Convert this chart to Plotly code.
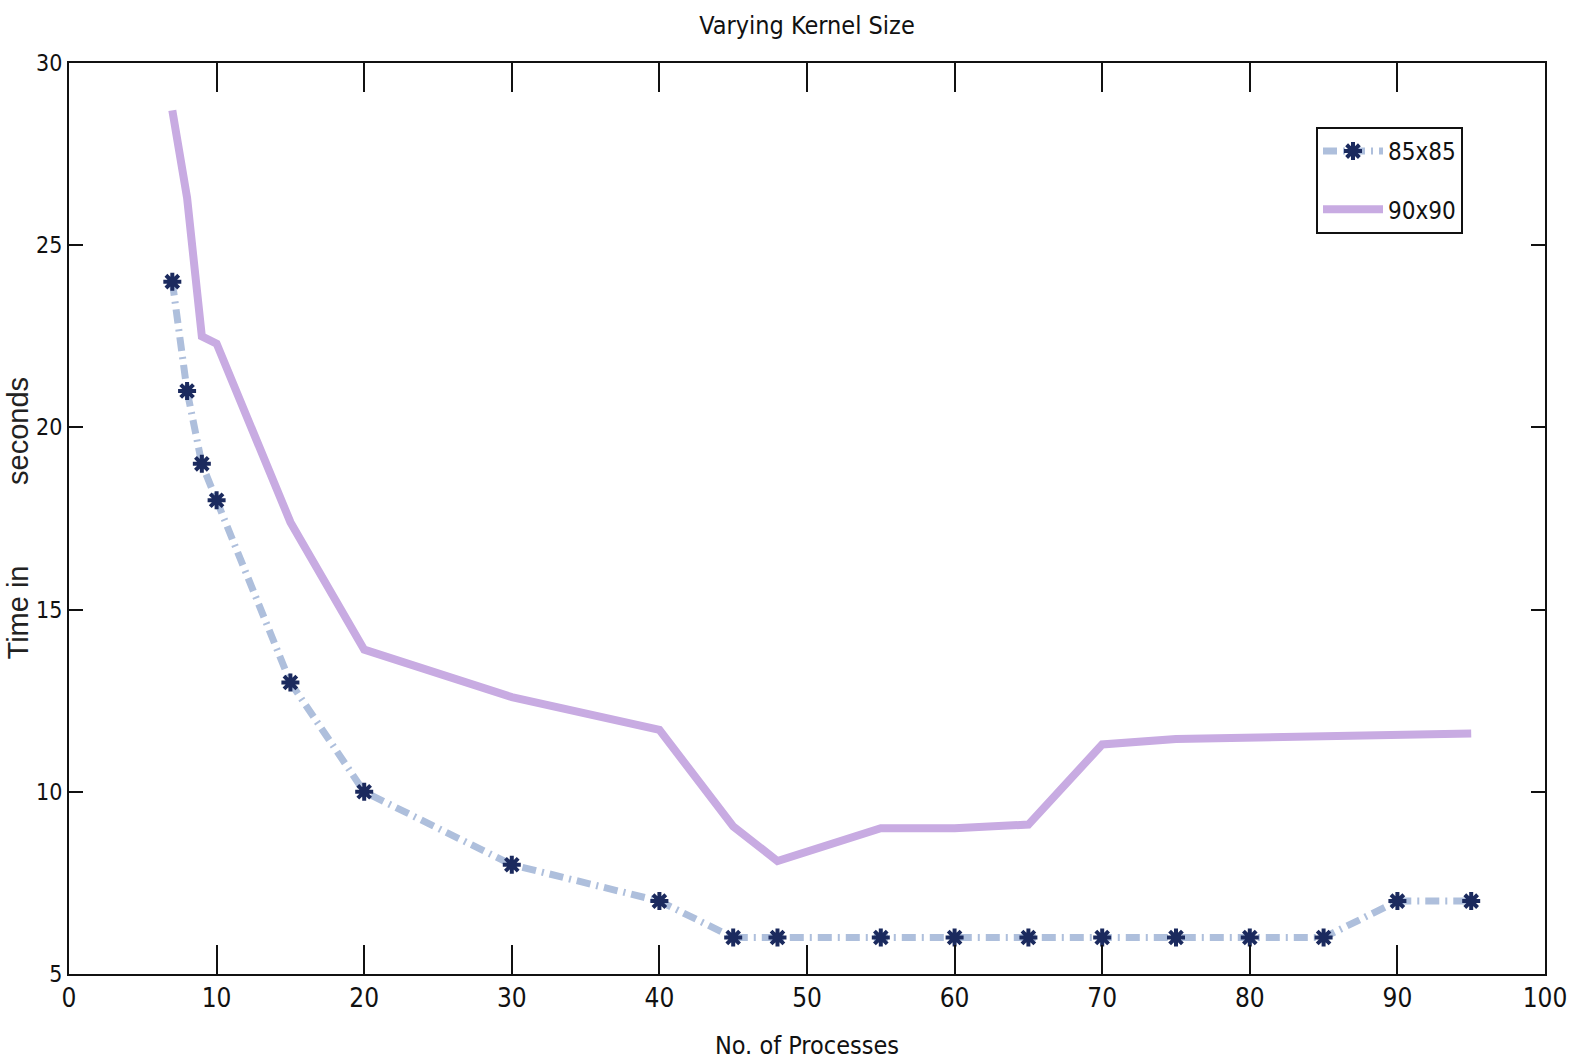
import plotly.graph_objects as go

processes = [7, 8, 9, 10, 15, 20, 30, 40, 45, 48, 55, 60, 65, 70, 75, 80, 85, 90, 95]
time_85 = [24, 21, 19, 18, 13, 10, 8, 7, 6, 6, 6, 6, 6, 6, 6, 6, 6, 7, 7]
time_90 = [28.7, 26.3, 22.5, 22.3, 17.4, 13.9, 12.6, 11.7, 9.05, 8.1, 9.0, 9.0, 9.1,
           11.3, 11.45, 11.5, 11.5, 11.6, 11.6]
x_ticks = [0, 10, 20, 30, 40, 50, 60, 70, 80, 90, 100]
y_ticks = [5, 10, 15, 20, 25, 30]

NARROW = "Liberation Sans Narrow, Arial Narrow, DejaVu Sans Condensed, sans-serif"

fig = go.Figure()
fig.add_trace(go.Scatter(
    x=processes, y=time_85, name="85x85", mode="lines+markers", legendgroup="a",
    line=dict(color="#aebfdc", width=7, dash="14px,6px,2px,6px"),
    marker=dict(symbol="asterisk-open", size=15, color="#1b2a5e",
                line=dict(color="#1b2a5e", width=4)),
))
fig.add_trace(go.Scatter(
    x=processes, y=time_90, name="90x90", mode="lines", legendgroup="b",
    line=dict(color="#c8abe2", width=8),
))

fig.update_layout(
    width=1585, height=1063,
    margin=dict(l=69, r=40, t=63, b=89),
    paper_bgcolor="white", plot_bgcolor="white",
    font=dict(family=NARROW, size=22, color="#111111"),
    title=dict(text="Varying Kernel Size", x=0.5, xref="paper", y=1 - 25 / 1063,
               yanchor="middle", font=dict(family=NARROW, size=25, color="#111111")),
    showlegend=True,
    legend=dict(x=(1463 - 69) / 1476, xanchor="right", y=1 - (127 - 63) / 911, yanchor="top",
                bordercolor="#111111", borderwidth=2, bgcolor="white", itemwidth=60,
                font=dict(family=NARROW, size=24), tracegroupgap=24),
    annotations=[dict(
        text="Time in" + "\u00a0" * 10 + "seconds", textangle=-90,
        xref="paper", yref="paper", x=-(69 - 17) / 1476, y=0.5,
        xanchor="center", yanchor="middle", showarrow=False,
        font=dict(family="Liberation Sans, Arial, sans-serif", size=29, color="#222222"),
    )],
)
fig.update_xaxes(
    range=[0, 100], tickvals=x_ticks, ticks="inside", ticklen=29, tickwidth=2, tickcolor="#111111",
    showline=True, linecolor="#111111", linewidth=2, mirror="ticks", showgrid=False, zeroline=False,
    tickfont=dict(family=NARROW, size=26), automargin=False,
    title=dict(text="No. of Processes", font=dict(family=NARROW, size=25), standoff=24),
)
fig.update_yaxes(
    range=[5, 30], tickvals=y_ticks, ticks="inside", ticklen=14, tickwidth=2, tickcolor="#111111",
    showline=True, linecolor="#111111", linewidth=2, mirror="ticks", showgrid=False, zeroline=False,
    tickfont=dict(family=NARROW, size=23), automargin=False,
)

fig.write_html("out.html")
